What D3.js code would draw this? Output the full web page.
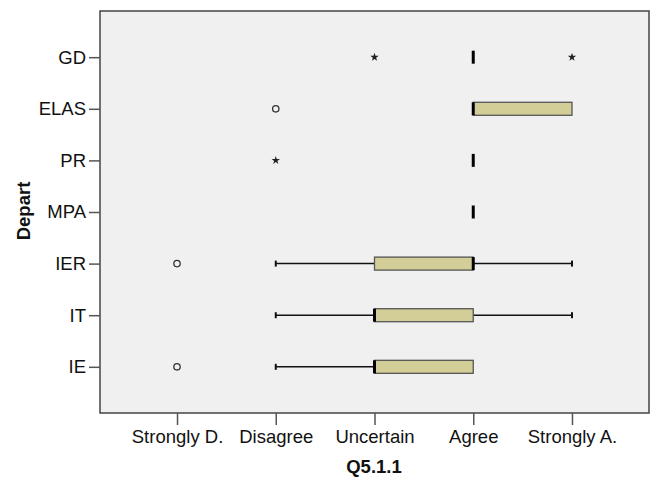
<!DOCTYPE html>
<html>
<head>
<meta charset="utf-8">
<script src="https://cdn.jsdelivr.net/npm/d3@7"></script>
<style>
body{margin:0;background:#fff;}
svg text{font-family:"Liberation Sans",Arial,sans-serif;}
</style>
</head>
<body>
<svg id="chart" width="656" height="478"></svg>
<script>
const departs = ["GD","ELAS","PR","MPA","IER","IT","IE"];
const q1 =          [4,4,4,4,3,3,3];
const medians =     [4,4,4,4,4,3,3];
const q3 =          [4,5,4,4,4,4,4];
const whiskerLow =  [4,4,4,4,2,2,2];
const whiskerHigh = [4,5,4,4,5,5,4];
const outlierDept = ["ELAS","IER","IE"];
const outlierVal  = [2,1,1];
const extremeDept = ["GD","GD","PR"];
const extremeVal  = [3,5,2];
const xTickValues = [1,2,3,4,5];
const xTickLabels = ["Strongly D.","Disagree","Uncertain","Agree","Strongly A."];

const svg = d3.select("#chart");
const L=100, T=11, R=649, B=413;
const x = d3.scaleLinear().domain([0.22,5.78]).range([L,R]);
const y = d3.scalePoint().domain(departs).range([T,B]).padding(0.895);

svg.append("rect").attr("x",L).attr("y",T).attr("width",R-L).attr("height",B-T)
  .attr("fill","#f0f0f0").attr("stroke","#444").attr("stroke-width",1.5);

const boxH = 13;
const g = svg.append("g");
departs.forEach((d,i)=>{
  const cy = y(d);
  // whiskers
  if (whiskerLow[i] < q1[i]) {
    g.append("line").attr("x1",x(whiskerLow[i])).attr("x2",x(q1[i])).attr("y1",cy).attr("y2",cy).attr("stroke","#111").attr("stroke-width",1.5);
    g.append("line").attr("x1",x(whiskerLow[i])).attr("x2",x(whiskerLow[i])).attr("y1",cy-3).attr("y2",cy+3).attr("stroke","#111").attr("stroke-width",2);
  }
  if (whiskerHigh[i] > q3[i]) {
    g.append("line").attr("x1",x(q3[i])).attr("x2",x(whiskerHigh[i])).attr("y1",cy).attr("y2",cy).attr("stroke","#111").attr("stroke-width",1.5);
    g.append("line").attr("x1",x(whiskerHigh[i])).attr("x2",x(whiskerHigh[i])).attr("y1",cy-3).attr("y2",cy+3).attr("stroke","#111").attr("stroke-width",2);
  }
  if (q3[i] > q1[i]) {
    g.append("rect").attr("x",x(q1[i])).attr("y",cy-boxH/2).attr("width",x(q3[i])-x(q1[i])).attr("height",boxH)
      .attr("fill","#d3ce98").attr("stroke","#555").attr("stroke-width",1.3);
  }
  g.append("line").attr("x1",x(medians[i])).attr("x2",x(medians[i])).attr("y1",cy-boxH/2).attr("y2",cy+boxH/2)
    .attr("stroke","#000").attr("stroke-width",3);
});

outlierDept.forEach((d,i)=>{
  g.append("circle").attr("cx",x(outlierVal[i])).attr("cy",y(d)).attr("r",3.2)
    .attr("fill","none").attr("stroke","#333").attr("stroke-width",1.3);
});
extremeDept.forEach((d,i)=>{
  g.append("path").attr("d",d3.symbol(d3.symbolStar,22)())
    .attr("transform",`translate(${x(extremeVal[i])},${y(d)})`).attr("fill","#222");
});

const xAxis = svg.append("g").attr("transform",`translate(0,${B})`)
  .call(d3.axisBottom(x).tickValues(xTickValues).tickFormat((v,i)=>xTickLabels[i]).tickSize(12).tickSizeOuter(0).tickPadding(5));
xAxis.select(".domain").remove();
xAxis.selectAll(".tick line").attr("stroke","#555").attr("stroke-width",1.5);
xAxis.selectAll(".tick text").attr("font-size","18.5px").attr("fill","#111").style("font-family","'Liberation Sans',Arial,sans-serif");

const yAxis = svg.append("g").attr("transform",`translate(${L},0)`)
  .call(d3.axisLeft(y).tickSize(11).tickSizeOuter(0).tickPadding(3));
yAxis.select(".domain").remove();
yAxis.selectAll(".tick line").attr("stroke","#555").attr("stroke-width",1.5);
yAxis.selectAll(".tick text").attr("font-size","18.5px").attr("fill","#111").style("font-family","'Liberation Sans',Arial,sans-serif");

svg.append("text").attr("x",374).attr("y",473).attr("text-anchor","middle")
  .attr("font-size","18.5px").attr("font-weight","bold").attr("fill","#111").text("Q5.1.1");
svg.append("text").attr("transform","translate(30,211) rotate(-90)").attr("text-anchor","middle")
  .attr("font-size","18.5px").attr("font-weight","bold").attr("fill","#111").text("Depart");
</script>
</body>
</html>
